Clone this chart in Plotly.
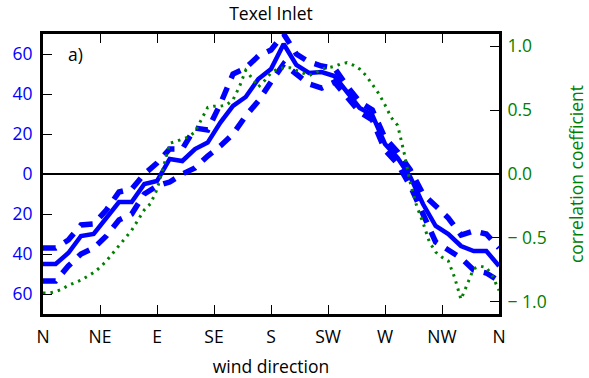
import plotly.graph_objects as go

# wind direction (degrees) for the blue series
directions = list(range(0, 361, 10))
mean_vals = [-45, -45, -39.5, -31, -30, -22, -14, -14, -5, -3.5,
             7.5, 6.5, 12.5, 15.7, 25.7, 34, 38.5, 47.5, 52.5, 65,
             54.5, 50.5, 51, 49, 41, 33, 29.5, 15, 8, -1.5,
             -15, -26, -30, -36, -38.5, -38.5, -46]
upper_vals = [-37, -37, -33, -25.5, -25, -18, -9, -7.5, 0, 5.5,
              12.5, 12.5, 23, 22, 35, 50, 53, 59, 62, 70,
              60, 56, 54, 53, 44, 36, 32, 18, 11, 2,
              -10, -16, -22, -30.5, -28.5, -30, -37]
lower_vals = [-53.5, -53.5, -46, -40, -37, -31, -23, -20, -10, -6,
              -4, 0, 3, 9, 14, 20, 29, 36.5, 46, 55,
              50, 45, 43, 46, 38.5, 31, 27, 12, 5, -6,
              -20, -34, -38, -42, -48, -49.5, -53.5]

# correlation coefficient (right axis), 5 degree steps
corr_dirs = list(range(0, 361, 5))
corr_vals = [-0.93, -0.93, -0.92, -0.90, -0.87, -0.85, -0.83, -0.80, -0.77, -0.73,
             -0.68, -0.62, -0.56, -0.50, -0.44, -0.36, -0.28, -0.23, -0.12, 0.05,
             0.24, 0.255, 0.27, 0.29, 0.33, 0.42, 0.52, 0.53, 0.53, 0.54,
             0.58, 0.68, 0.81, 0.75, 0.68, 0.73, 0.79, 0.82, 0.83, 0.83,
             0.81, 0.79, 0.77, 0.79, 0.82, 0.83, 0.84, 0.86, 0.87, 0.85,
             0.82, 0.77, 0.70, 0.63, 0.54, 0.44, 0.38, 0.17, -0.07, -0.25,
             -0.38, -0.53, -0.61, -0.65, -0.68, -0.81, -0.98, -0.86, -0.74, -0.72,
             -0.73, -0.80, -0.91]

x_tickvals = [0, 45, 90, 135, 180, 225, 270, 315, 360]
x_ticktext = ["N", "NE", "E", "SE", "S", "SW", "W", "NW", "N"]
y_tickvals = [-60, -40, -20, 0, 20, 40, 60]
y_ticktext = ["60", "40", "20", "0", "20", "40", "60"]
y2_tickvals = [-1.0, -0.5, 0.0, 0.5, 1.0]
y2_ticktext = ["\u2212 1.0", "\u2212 0.5", "0.0", "0.5", "1.0"]

BLUE = "#0000ff"
GREEN = "#008000"
FONT = "Open Sans"
FS = 17.5

fig = go.Figure()
fig.add_trace(go.Scatter(x=corr_dirs, y=corr_vals, yaxis="y2", mode="lines",
                         line=dict(color=GREEN, width=3, dash="2.5px,5px"),
                         showlegend=False))
fig.add_trace(go.Scatter(x=directions, y=upper_vals, mode="lines",
                         line=dict(color=BLUE, width=5.5, dash="13px,10px"),
                         showlegend=False))
fig.add_trace(go.Scatter(x=directions, y=lower_vals, mode="lines",
                         line=dict(color=BLUE, width=5.5, dash="13px,10px"),
                         showlegend=False))
fig.add_trace(go.Scatter(x=directions, y=mean_vals, mode="lines",
                         line=dict(color=BLUE, width=4.5),
                         showlegend=False))

fig.update_layout(
    width=589, height=378,
    margin=dict(l=43, r=90, t=34, b=64),
    paper_bgcolor="white", plot_bgcolor="white",
    font=dict(family=FONT, size=FS, color="black"),
    title=dict(text="Texel Inlet", x=0.46, xanchor="center", y=0.962, yanchor="middle",
               font=dict(family=FONT, size=FS, color="black")),
    xaxis=dict(range=[0, 360], tickmode="array", tickvals=x_tickvals, ticktext=x_ticktext,
               ticks="inside", ticklen=9, tickwidth=1.2, tickcolor="black",
               showline=True, linewidth=3, linecolor="black", mirror="ticks",
               showgrid=False, zeroline=False, ticklabelstandoff=5, automargin=False,
               tickfont=dict(family=FONT, size=FS, color="black"),
               title=dict(text="wind direction", standoff=16,
                          font=dict(family=FONT, size=FS, color="black"))),
    yaxis=dict(range=[-70, 70], tickmode="array", tickvals=y_tickvals, ticktext=y_ticktext,
               ticks="inside", ticklen=9, tickwidth=1.2, tickcolor="black",
               showline=True, linewidth=3, linecolor="black",
               showgrid=False, zeroline=True, zerolinecolor="black", zerolinewidth=2,
               ticklabelstandoff=4, automargin=False,
               tickfont=dict(family=FONT, size=FS, color=BLUE)),
    yaxis2=dict(range=[-1.094, 1.094], overlaying="y", side="right",
                tickmode="array", tickvals=y2_tickvals, ticktext=y2_ticktext,
                ticks="inside", ticklen=9, tickwidth=1.2, tickcolor="black",
                showline=True, linewidth=3, linecolor="black",
                showgrid=False, zeroline=False, ticklabelstandoff=2, automargin=False,
                tickfont=dict(family=FONT, size=FS, color=GREEN),
                title=dict(text="correlation coefficient", standoff=26,
                           font=dict(family=FONT, size=FS, color=GREEN))),
    annotations=[dict(text="a)", xref="paper", yref="paper", x=0.05, y=0.93,
                      xanchor="left", yanchor="middle", showarrow=False,
                      font=dict(family=FONT, size=FS, color="black"))],
)

fig.write_html("out.html")
